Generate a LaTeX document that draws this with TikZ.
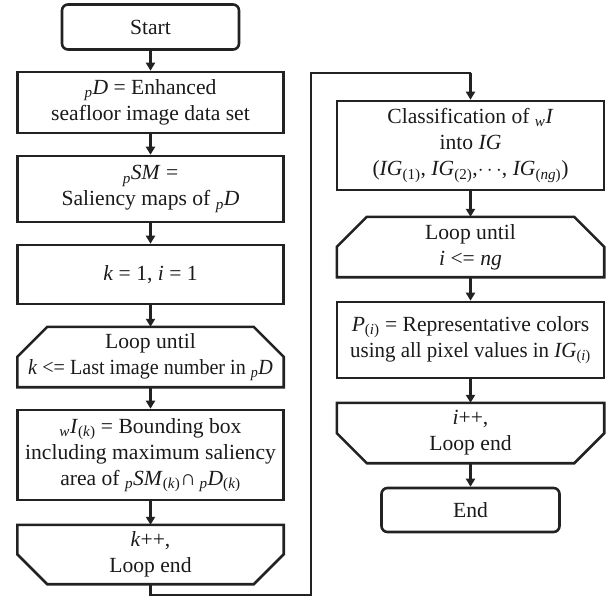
\documentclass[tikz,border=0pt]{standalone}
\usepackage{fontspec}
\setmainfont{Liberation Serif}
\usetikzlibrary{arrows.meta,calc}
\newcommand\pre[1]{\textsubscript{\textit{#1}}}
\newcommand\sbs[1]{\textsubscript{#1}}
\definecolor{lc}{HTML}{222222}
\definecolor{tc}{HTML}{1A1A1A}
\begin{document}
\begin{tikzpicture}[x=1pt,y=-1pt,
  every node/.style={text=tc, font=\fontsize{21.6}{26}\selectfont, align=center, inner sep=0pt},
  box/.style={draw=lc, line width=2.6pt},
  rbox/.style={draw=lc, line width=2.6pt, rounded corners=6pt},
  loopbox/.style={},
  outline/.style={draw=lc, line width=2.6pt, line join=miter},
  arr/.style={draw=lc, line width=2.6pt, -{Triangle[length=8pt,width=9pt]}},
  lnk/.style={draw=lc, line width=2.6pt, line join=miter}]
\useasboundingbox (0,0) rectangle (607,598);
% left column
\node[rbox, minimum width=177pt, minimum height=45pt] (start) at (150.5,27) {Start};
\node[box, minimum width=266pt, minimum height=61pt] (pD) at (150.5,102.5)
  {\pre{p}\textit{D} = Enhanced\\seafloor image data set};
\node[box, minimum width=266pt, minimum height=66pt] (pSM) at (150.5,189)
  {\pre{p}\textit{SM} =\\Saliency maps of \pre{p}\textit{D}};
\node[box, minimum width=266pt, minimum height=59pt] (k1) at (150.5,274.5)
  {\textit{k} = 1, \textit{i} = 1};
\node[loopbox, minimum width=266pt, minimum height=60pt] (loopk) at (150.5,357)
  {Loop until\\\scalebox{0.93}[1]{\textit{k} <= Last image number in \pre{p}\textit{D}}};
\node[box, minimum width=266pt, minimum height=90pt] (wI) at (150.5,455)
  {\pre{w}\textit{I}\sbs{(\textit{k})} = Bounding box\\including maximum saliency\\area of \pre{p}\textit{SM}\sbs{(\textit{k})}∩\,\pre{p}\textit{D}\sbs{(\textit{k})}};
\node[loopbox, minimum width=266pt, minimum height=59pt] (kpp) at (150.5,554.5)
  {\textit{k}++,\\Loop end};
% right column
\node[box, minimum width=267pt, minimum height=89pt] (cls) at (470.5,145.5)
  {Classification of \pre{w}\textit{I}\\into \textit{IG}\\(\textit{IG}\sbs{(1)}, \textit{IG}\sbs{(2)},$\cdots$, \textit{IG}\sbs{(\textit{ng})})};
\node[loopbox, minimum width=267pt, minimum height=60pt] (loopi) at (470.5,247)
  {Loop until\\\textit{i} <= \textit{ng}};
\node[box, minimum width=267pt, minimum height=76pt] (P) at (470.5,340)
  {\textit{P}\sbs{(\textit{i})} = Representative colors\\\scalebox{0.97}[1]{using all pixel values in \textit{IG}\sbs{(\textit{i})}}};
\node[loopbox, minimum width=267pt, minimum height=60pt] (ipp) at (470.5,433)
  {\textit{i}++,\\Loop end};
\node[rbox, minimum width=178pt, minimum height=44pt] (end) at (470.5,510) {End};
% chamfered outlines
\foreach \n in {loopk,loopi}{
  \draw[outline] (\n.south west) -- ([yshift=-30pt]\n.north west) -- ([xshift=30pt]\n.north west)
    -- ([xshift=-30pt]\n.north east) -- ([yshift=-30pt]\n.north east) -- (\n.south east) -- cycle;
}
\foreach \n in {kpp,ipp}{
  \draw[outline] (\n.north west) -- ([yshift=30pt]\n.south west) -- ([xshift=30pt]\n.south west)
    -- ([xshift=-30pt]\n.south east) -- ([yshift=30pt]\n.south east) -- (\n.north east) -- cycle;
}
% connectors
\draw[arr] (start) -- (pD);
\draw[arr] (pD) -- (pSM);
\draw[arr] (pSM) -- (k1);
\draw[arr] (k1) -- (loopk);
\draw[arr] (loopk) -- (wI);
\draw[arr] (wI) -- (kpp);
\coordinate (b1) at (150.5,595);
\coordinate (b2) at (311,595);
\coordinate (b3) at (311,73);
\coordinate (b4) at (470.5,73);
\draw[lnk] (kpp.south) -- (b1) -- (b2) -- (b3) -- (b4);
\draw[arr] (b4) -- (cls.north);
\draw[arr] (cls) -- (loopi);
\draw[arr] (loopi) -- (P);
\draw[arr] (P) -- (ipp);
\draw[arr] (ipp) -- (end);
\end{tikzpicture}
\end{document}
